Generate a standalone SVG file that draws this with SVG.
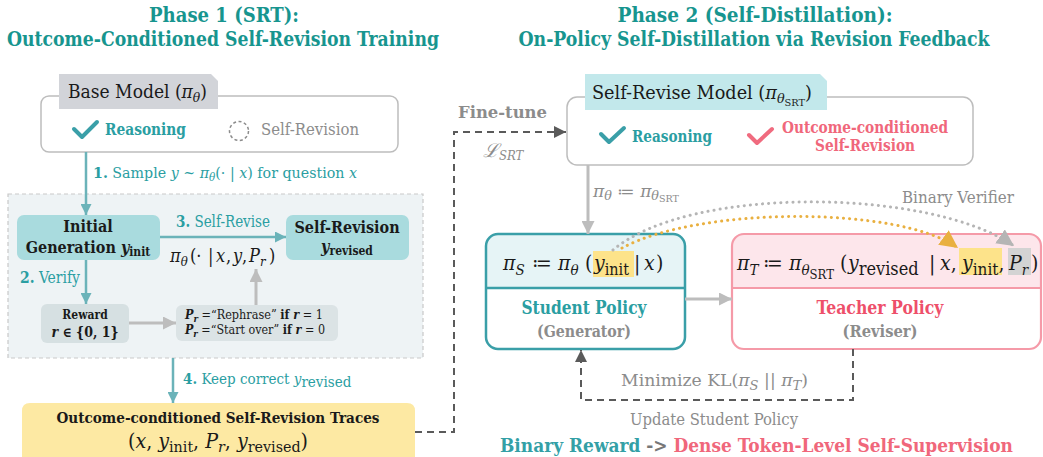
<svg xmlns="http://www.w3.org/2000/svg" width="1043" height="457" viewBox="0 0 1043 457">
<style>
.title{font-family:"DejaVu Serif",serif;font-weight:bold;font-stretch:condensed;font-size:20px;fill:#17958f}
.body{font-family:"DejaVu Serif",serif;font-stretch:condensed}
.bold{font-family:"DejaVu Serif",serif;font-weight:bold;font-stretch:condensed}
.m{font-style:italic}
.teal{fill:#2a9ea2}
.gray{fill:#8c8c8c}
.dark{fill:#1a1a1a}
.pink{fill:#f0677b}
.box{fill:#fff;stroke:#bdbdbd;stroke-width:1.5}
.tl{stroke:#6bb3b9;stroke-width:2.5;fill:none}
.gl{stroke:#bdbdbd;stroke-width:3;fill:none}
.dl{stroke:#5a5a5a;stroke-width:2;fill:none;stroke-dasharray:7 5}
.chk{fill:none;stroke-width:4;stroke-linecap:round;stroke-linejoin:round}
</style>
<defs>
<marker id="aT" viewBox="0 0 10 10" refX="10" refY="5" markerWidth="11" markerHeight="11" markerUnits="userSpaceOnUse" orient="auto"><path d="M0,0 L10,5 L0,10 z" fill="#6bb3b9"/></marker>
<marker id="aG" viewBox="0 0 10 10" refX="10" refY="5" markerWidth="13" markerHeight="13" markerUnits="userSpaceOnUse" orient="auto"><path d="M0,0 L10,5 L0,10 z" fill="#bdbdbd"/></marker>
<marker id="aD" viewBox="0 0 10 10" refX="10" refY="5" markerWidth="12" markerHeight="12" markerUnits="userSpaceOnUse" orient="auto"><path d="M0,0 L10,5 L0,10 z" fill="#5a5a5a"/></marker>
<marker id="aO" viewBox="0 0 10 10" refX="10" refY="5" markerWidth="18" markerHeight="18" markerUnits="userSpaceOnUse" orient="auto"><path d="M0,0 L10,5 L0,10 z" fill="#e9b040"/></marker>
<marker id="aV" viewBox="0 0 10 10" refX="10" refY="5" markerWidth="17" markerHeight="17" markerUnits="userSpaceOnUse" orient="auto"><path d="M0,0 L10,5 L0,10 z" fill="#b5b5b5"/></marker>
</defs>

<g id="titles">
<text class="title" x="224" y="22" text-anchor="middle" textLength="150" lengthAdjust="spacingAndGlyphs">Phase 1 (SRT):</text>
<text class="title" x="223" y="46" text-anchor="middle" textLength="432" lengthAdjust="spacingAndGlyphs">Outcome-Conditioned Self-Revision Training</text>
<text class="title" x="755" y="22" text-anchor="middle" textLength="275" lengthAdjust="spacingAndGlyphs">Phase 2 (Self-Distillation):</text>
<text class="title" x="754" y="46" text-anchor="middle" textLength="471" lengthAdjust="spacingAndGlyphs">On-Policy Self-Distillation via Revision Feedback</text>
</g>

<g id="panel">
<rect x="8" y="194" width="415" height="164" fill="#eef3f5" stroke="#c9c9c9" stroke-width="1.2" stroke-dasharray="4 3"/>
</g>

<g id="base-model">
<rect class="box" x="41" y="96" width="357" height="56" rx="8"/>
<path d="M59,74 H211 L218,81 V109 H59 Z" fill="#d2d4d9"/>
<text class="body dark" x="68" y="98" font-size="18" textLength="139" lengthAdjust="spacingAndGlyphs">Base Model (<tspan class="m">π</tspan><tspan class="m" font-size="13" dy="4">θ</tspan><tspan dy="-4">)</tspan></text>
<path class="chk" d="M74,129 L82,137 L97,122" stroke="#3a9fa8"/>
<text class="bold teal" x="105" y="135" font-size="17" textLength="81" lengthAdjust="spacingAndGlyphs">Reasoning</text>
<circle cx="239" cy="131" r="9.5" fill="none" stroke="#8c8c8c" stroke-width="1.5" stroke-dasharray="3 2.5"/>
<text class="body gray" x="261" y="135" font-size="17" textLength="98" lengthAdjust="spacingAndGlyphs">Self-Revision</text>
</g>

<g id="initial-generation">
<rect x="17" y="215" width="143" height="45" rx="7" fill="#a9dbde"/>
<text class="bold dark" x="88" y="232" font-size="16" text-anchor="middle">Initial</text>
<text class="bold dark" x="88" y="253" font-size="16" text-anchor="middle">Generation <tspan class="m">y</tspan><tspan font-size="12" dy="3">init</tspan></text>
</g>

<g id="self-revision">
<rect x="286" y="215" width="123" height="45" rx="7" fill="#a9dbde"/>
<text class="bold dark" x="347" y="233" font-size="16" text-anchor="middle">Self-Revision</text>
<text class="bold dark" x="347" y="252" font-size="16" text-anchor="middle"><tspan class="m">y</tspan><tspan font-size="12" dy="3">revised</tspan></text>
</g>

<g id="reward">
<rect x="41" y="304" width="88" height="39" rx="6" fill="#d6e0e2"/>
<text class="bold dark" x="85" y="319" font-size="12" text-anchor="middle">Reward</text>
<text class="bold dark" x="85" y="337" font-size="14" text-anchor="middle"><tspan class="m">r</tspan> ∈ {0, 1}</text>
</g>

<g id="prompt">
<rect x="176" y="305" width="162" height="36" rx="6" fill="#dbe3e5"/>
<text class="body dark" x="185" y="319" font-size="12" textLength="138" lengthAdjust="spacingAndGlyphs"><tspan class="m" font-weight="bold">P</tspan><tspan class="m" font-weight="bold" font-size="9" dy="3">r</tspan><tspan dy="-3"> =“Rephrase” </tspan><tspan font-weight="bold">if </tspan><tspan class="m" font-weight="bold">r</tspan> = 1</text>
<text class="body dark" x="185" y="334" font-size="12" textLength="140" lengthAdjust="spacingAndGlyphs"><tspan class="m" font-weight="bold">P</tspan><tspan class="m" font-weight="bold" font-size="9" dy="3">r</tspan><tspan dy="-3"> =“Start over” </tspan><tspan font-weight="bold">if </tspan><tspan class="m" font-weight="bold">r</tspan> = 0</text>
</g>

<g id="traces">
<path d="M22,465 V411 Q22,403 30,403 H407 Q415,403 415,411 V465 Z" fill="#fde9a3"/>
<text class="bold dark" x="218" y="423" font-size="15" text-anchor="middle" textLength="323" lengthAdjust="spacingAndGlyphs">Outcome-conditioned Self-Revision Traces</text>
<text class="body dark" x="218" y="448" font-size="20" text-anchor="middle" textLength="180" lengthAdjust="spacingAndGlyphs">(<tspan class="m">x</tspan>, <tspan class="m">y</tspan><tspan font-size="15" dy="4">init</tspan><tspan dy="-4">, </tspan><tspan class="m">P</tspan><tspan class="m" font-size="15" dy="4">r</tspan><tspan dy="-4">, </tspan><tspan class="m">y</tspan><tspan font-size="15" dy="4">revised</tspan><tspan dy="-4">)</tspan></text>
</g>

<g id="self-revise-model">
<rect class="box" x="567" y="97" width="406" height="68" rx="10"/>
<path d="M585,74 H820 L827,81 V110 H585 Z" fill="#c2e8eb"/>
<text class="body dark" x="592" y="99" font-size="18" textLength="220" lengthAdjust="spacingAndGlyphs">Self-Revise Model (<tspan class="m">π</tspan><tspan class="m" font-size="13" dy="4">θ</tspan><tspan font-size="10" dy="3">SRT</tspan><tspan dy="-7">)</tspan></text>
<path class="chk" d="M601,134 L609,142 L624,128" stroke="#3a9fa8"/>
<text class="bold teal" x="632" y="142" font-size="17" textLength="80" lengthAdjust="spacingAndGlyphs">Reasoning</text>
<path class="chk" d="M749,135 L757,143 L772,129" stroke="#f06b7f"/>
<text class="bold pink" x="865" y="133" font-size="17" text-anchor="middle" textLength="166" lengthAdjust="spacingAndGlyphs">Outcome-conditioned</text>
<text class="bold pink" x="865" y="151" font-size="17" text-anchor="middle" textLength="100" lengthAdjust="spacingAndGlyphs">Self-Revision</text>
</g>

<g id="student-policy">
<rect x="486" y="234" width="199" height="115" rx="12" fill="#fff"/>
<path d="M486,288 V246 Q486,234 498,234 H673 Q685,234 685,246 V288 Z" fill="#e6f4f6"/>
<rect x="593" y="251" width="41" height="26" fill="#fde38a"/>
<line x1="486" y1="288" x2="685" y2="288" stroke="#3a9fa8" stroke-width="2.5"/>
<rect x="486" y="234" width="199" height="115" rx="12" fill="none" stroke="#3a9fa8" stroke-width="2.5"/>
<text class="body dark" font-size="21"><tspan class="m" x="503" y="270">π</tspan><tspan class="m" font-size="15" y="275">S</tspan><tspan x="532" y="270">≔</tspan><tspan class="m" x="558" y="270">π</tspan><tspan class="m" font-size="15" y="275">θ</tspan><tspan x="585" y="270">(</tspan><tspan class="m" x="594" y="270">y</tspan><tspan font-size="16" y="275">init</tspan><tspan x="634" y="270">|</tspan><tspan class="m" x="644" y="270">x</tspan><tspan x="656" y="270">)</tspan></text>
<text class="bold teal" x="584" y="314" font-size="18" text-anchor="middle" textLength="125" lengthAdjust="spacingAndGlyphs">Student Policy</text>
<text class="bold gray" x="584" y="337" font-size="16" text-anchor="middle" textLength="94" lengthAdjust="spacingAndGlyphs">(Generator)</text>
</g>

<g id="teacher-policy">
<rect x="732" y="234" width="309" height="115" rx="12" fill="#fff"/>
<path d="M732,288 V246 Q732,234 744,234 H1029 Q1041,234 1041,246 V288 Z" fill="#fde6eb"/>
<rect x="959" y="248" width="43" height="27" fill="#fde38a"/>
<rect x="1008" y="248" width="23" height="27" fill="#d3d3d3"/>
<line x1="732" y1="288" x2="1041" y2="288" stroke="#f59aa8" stroke-width="2"/>
<rect x="732" y="234" width="309" height="115" rx="12" fill="none" stroke="#f59aa8" stroke-width="2.2"/>
<text class="body dark" font-size="21"><tspan class="m" x="737" y="270">π</tspan><tspan class="m" font-size="15" y="275">T</tspan><tspan x="763" y="270">≔</tspan><tspan class="m" x="789" y="270">π</tspan><tspan class="m" font-size="15" y="275">θ</tspan><tspan font-size="13" y="279">SRT</tspan><tspan x="840" y="270">(</tspan><tspan class="m" x="848" y="270">y</tspan><tspan font-size="18" y="275">revised</tspan><tspan x="929" y="270">|</tspan><tspan class="m" x="940" y="270">x</tspan><tspan>,</tspan><tspan class="m" x="962" y="270">y</tspan><tspan font-size="17" y="275">init</tspan><tspan y="270">,</tspan><tspan class="m" x="1009" y="270">P</tspan><tspan class="m" font-size="15" y="275">r</tspan><tspan x="1031" y="270">)</tspan></text>
<text class="bold" x="880" y="314" font-size="18" text-anchor="middle" fill="#ee4f6a" textLength="127" lengthAdjust="spacingAndGlyphs">Teacher Policy</text>
<text class="bold gray" x="880" y="337" font-size="16" text-anchor="middle" textLength="75" lengthAdjust="spacingAndGlyphs">(Reviser)</text>
</g>

<g id="connectors">
<line class="tl" x1="86" y1="152" x2="86" y2="215" marker-end="url(#aT)"/>
<line class="tl" x1="160" y1="237" x2="286" y2="237" marker-end="url(#aT)"/>
<line class="tl" x1="86" y1="260" x2="86" y2="304" marker-end="url(#aT)"/>
<line class="gl" x1="129" y1="323" x2="176" y2="323" marker-end="url(#aG)"/>
<line class="gl" x1="256" y1="305" x2="256" y2="269" marker-end="url(#aG)"/>
<line class="tl" x1="173" y1="358" x2="173" y2="403" marker-end="url(#aT)"/>
<path class="dl" d="M415,432 H454 V132 H566" marker-end="url(#aD)"/>
<line class="gl" x1="588" y1="165" x2="588" y2="234" marker-end="url(#aG)"/>
<line class="gl" x1="685" y1="299" x2="732" y2="299" marker-end="url(#aG)"/>
<path class="dl" d="M853,349 V400 H581 V350" marker-end="url(#aD)"/>
<path d="M613,250 C690,185 930,188 1014,246" fill="none" stroke="#b5b5b5" stroke-width="3" stroke-dasharray="0.1 6" stroke-linecap="round" marker-end="url(#aV)"/>
<path d="M622,248 C700,206 900,206 958,248" fill="none" stroke="#e9b040" stroke-width="3" stroke-dasharray="0.1 6" stroke-linecap="round" marker-end="url(#aO)"/>
</g>

<g id="labels">
<text class="body teal" x="93" y="178" font-size="15" textLength="264" lengthAdjust="spacingAndGlyphs"><tspan font-weight="bold">1.</tspan> Sample <tspan class="m">y</tspan> ~ <tspan class="m">π</tspan><tspan class="m" font-size="11" dy="3">θ</tspan><tspan dy="-3">(· | </tspan><tspan class="m">x</tspan>) for question <tspan class="m">x</tspan></text>
<text class="body teal" x="176" y="227" font-size="16" textLength="94" lengthAdjust="spacingAndGlyphs"><tspan font-weight="bold">3.</tspan> Self-Revise</text>
<text class="body dark" font-size="18"><tspan class="m" x="170" y="262">π</tspan><tspan class="m" font-size="13" y="266">θ</tspan><tspan x="190" y="262">(·</tspan><tspan x="208" y="262">|</tspan><tspan class="m" x="216" y="262">x</tspan><tspan x="226" y="262">,</tspan><tspan class="m" x="233" y="262">y</tspan><tspan x="242" y="262">,</tspan><tspan class="m" x="249" y="262">P</tspan><tspan class="m" font-size="13" y="266">r</tspan><tspan x="269" y="262">)</tspan></text>
<text class="body teal" x="20" y="283" font-size="16" textLength="60" lengthAdjust="spacingAndGlyphs"><tspan font-weight="bold">2.</tspan> Verify</text>
<text class="body teal" font-size="15"><tspan x="183" y="384" font-weight="bold">4.</tspan><tspan> Keep correct </tspan><tspan class="m">y</tspan><tspan font-size="15" y="387">revised</tspan></text>
<text class="bold gray" x="458" y="118" font-size="17" textLength="89" lengthAdjust="spacingAndGlyphs">Fine-tune</text>
<text class="body gray" x="483" y="157" font-size="19"><tspan class="m">ℒ</tspan><tspan class="m" font-size="13" dy="3">SRT</tspan></text>
<text class="body gray" x="593" y="197" font-size="16" textLength="86" lengthAdjust="spacingAndGlyphs"><tspan class="m">π</tspan><tspan class="m" font-size="12" dy="3">θ</tspan><tspan dy="-3"> ≔ </tspan><tspan class="m">π</tspan><tspan class="m" font-size="12" dy="3">θ</tspan><tspan font-size="9" dy="2">SRT</tspan></text>
<text class="body gray" x="902" y="203" font-size="17" textLength="112" lengthAdjust="spacingAndGlyphs">Binary Verifier</text>
<text class="body gray" x="621" y="386" font-size="17" textLength="187" lengthAdjust="spacingAndGlyphs">Minimize KL(<tspan class="m">π</tspan><tspan class="m" font-size="13" dy="4">S</tspan><tspan dy="-4"> || </tspan><tspan class="m">π</tspan><tspan class="m" font-size="13" dy="4">T</tspan><tspan dy="-4">)</tspan></text>
<text class="body gray" x="630" y="425" font-size="16" textLength="168" lengthAdjust="spacingAndGlyphs">Update Student Policy</text>
<text class="bold" x="500" y="452" font-size="19" textLength="513" lengthAdjust="spacingAndGlyphs"><tspan fill="#33a0a6">Binary Reward</tspan><tspan fill="#777"> -&gt; </tspan><tspan fill="#f0677b">Dense Token-Level Self-Supervision</tspan></text>
</g>
</svg>
